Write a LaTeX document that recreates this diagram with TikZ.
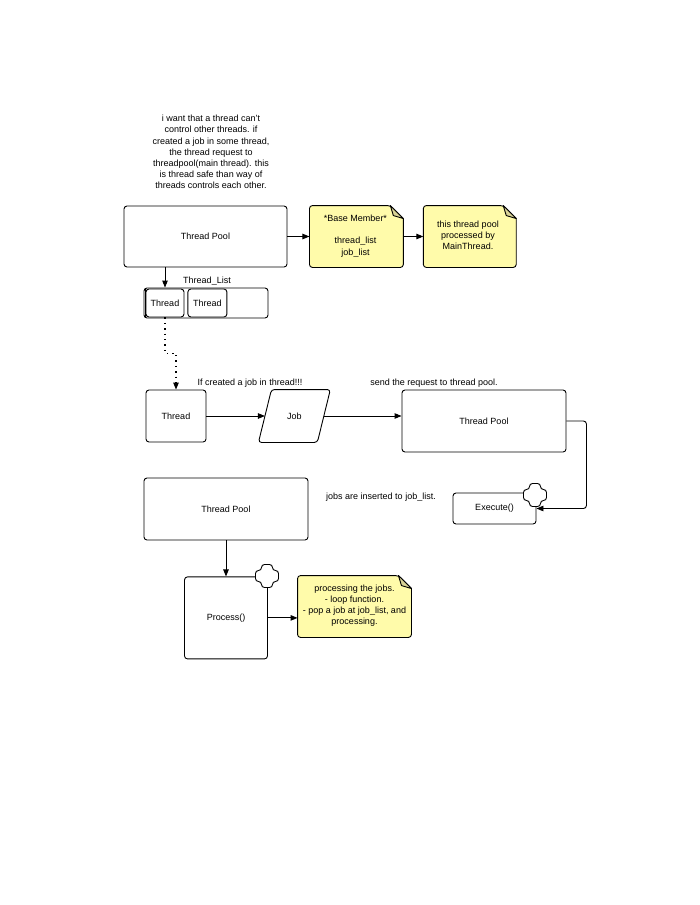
\documentclass[tikz,border=0pt]{standalone}
\usepackage{fontspec}
\setmainfont{Liberation Sans}
\usepackage{xcolor}
\definecolor{notefill}{HTML}{FFFBAA}
\definecolor{notefold}{HTML}{D8D296}
\usepackage{tikz}
\usetikzlibrary{positioning, arrows.meta, calc}
\newcommand{\foldnote}[1]{%
  \filldraw[fill=notefill, rounded corners=3pt] (#1.south west) -- (#1.north west)
    -- ([xshift=-13pt]#1.north east) [sharp corners] -- ([yshift=-13pt]#1.north east)
    [rounded corners=3pt] -- (#1.south east) -- cycle;
  \filldraw[fill=notefold, line join=round] ([xshift=-13pt]#1.north east)
    -- ([yshift=-13pt]#1.north east) -- ([xshift=-10pt,yshift=-10pt]#1.north east) -- cycle;}

\begin{document}
\begin{tikzpicture}[x=1pt, y=-1pt, line width=0.9pt,
    font=\fontsize{9}{11.2}\selectfont,
    box/.style={draw, rounded corners=3pt, inner sep=0pt, align=center},
    notebox/.style={inner sep=0pt, align=center},
    arr/.style={-{Triangle[length=7pt, width=5.5pt]}},
    plusmark/.pic={\filldraw[fill=white, rounded corners=3pt]
      (-5.5,-11.5) -- (5.5,-11.5) -- (5.5,-5.5) -- (11.5,-5.5) -- (11.5,5.5)
      -- (5.5,5.5) -- (5.5,11.5) -- (-5.5,11.5) -- (-5.5,5.5) -- (-11.5,5.5)
      -- (-11.5,-5.5) -- (-5.5,-5.5) -- cycle;}]
  \useasboundingbox (0,0) rectangle (700,905);

  % intro text
  \node[align=center] (intro) at (211,152) {i want that a thread can't\\control other threads. if\\created a job in some thread,\\the thread request to\\threadpool(main thread). this\\is thread safe than way of\\threads controls each other.};

  % thread pool with members
  \node[box, minimum width=163pt, minimum height=61pt] (tp1) at (205.5,236.5) {Thread Pool};
  \node[notebox, minimum width=93pt, minimum height=61pt, right=22pt of tp1] (members) {};
  \foldnote{members}
  \node[align=center] at (355.5,236) {*Base Member*\\[11.2pt]thread\_list\\job\_list};
  \node[notebox, minimum width=92pt, minimum height=61pt, right=20pt of members] (mainnote) {};
  \foldnote{mainnote}
  \node[align=center] at (468,235.5) {this thread pool\\processed by\\MainThread.};
  \draw[arr] (tp1) -- (members);
  \draw[arr] (members) -- (mainnote);

  % thread list
  \node[box, minimum width=124pt, minimum height=30pt] (tlist) at (206,303) {};
  \draw (145.2,289) -- (145.2,317);
  \node[box, minimum width=38pt, minimum height=28pt] (lt1) at (165,303) {Thread};
  \node[box, minimum width=39pt, minimum height=28pt, right=3pt of lt1] (lt2) {Thread};
  \node (tlabel) at (207,281) {Thread\_List};
  \draw[arr] (tp1.south -| lt1.north) -- (lt1.north |- tlist.north);

  % request row
  \node[box, minimum width=60pt, minimum height=52pt] (thread) at (176,416) {Thread};
  \node[notebox, minimum width=58pt, minimum height=52pt, right=58.5pt of thread] (job) {Job};
  \draw[rounded corners=3pt] ([xshift=-6.5pt]job.south west) -- ([xshift=-6.5pt]job.south east)
    -- ([xshift=6.5pt]job.north east) -- ([xshift=6.5pt]job.north west) -- cycle;
  \node[box, minimum width=164pt, minimum height=62pt] (tp2) at (484,421) {Thread Pool};
  \node (created) at (250,383) {If created a job in thread!!!};
  \node (send) at (434,383) {send the request to thread pool.};
  \draw[arr, dash pattern=on 1.4pt off 4pt, line width=1.2pt] (lt1.south) -- ++(0,36) -| (thread.north);
  \draw[arr] (thread) -- (job);
  \draw[arr] (job.east) -- (job.east -| tp2.west);

  % execute
  \node[box, minimum width=83pt, minimum height=31pt] (exec) at (494.5,508.5) {Execute()};
  \pic at (535,495) {plusmark};
  \draw[arr, rounded corners=3pt] (tp2.east) -- ++(20,0) |- (exec.east);
  \node (inserted) at (381,497) {jobs are inserted to job\_list.};

  % process
  \node[box, minimum width=164pt, minimum height=62pt] (tp3) at (226,509) {Thread Pool};
  \node[box, minimum width=83pt, minimum height=82pt, below=36pt of tp3] (process) {Process()};
  \pic at (267,576) {plusmark};
  \node[notebox, minimum width=113pt, minimum height=61pt] (jobnote) at (354.5,606.5) {};
  \foldnote{jobnote}
  \node[align=center] at (354.5,605.5) {processing the jobs.\\- loop function.\\- pop a job at job\_list, and\\processing.};
  \draw[arr] (tp3.south) -- (tp3.south |- process.north);
  \draw[arr] (process.east) -- (process.east -| jobnote.west);
\end{tikzpicture}
\end{document}
